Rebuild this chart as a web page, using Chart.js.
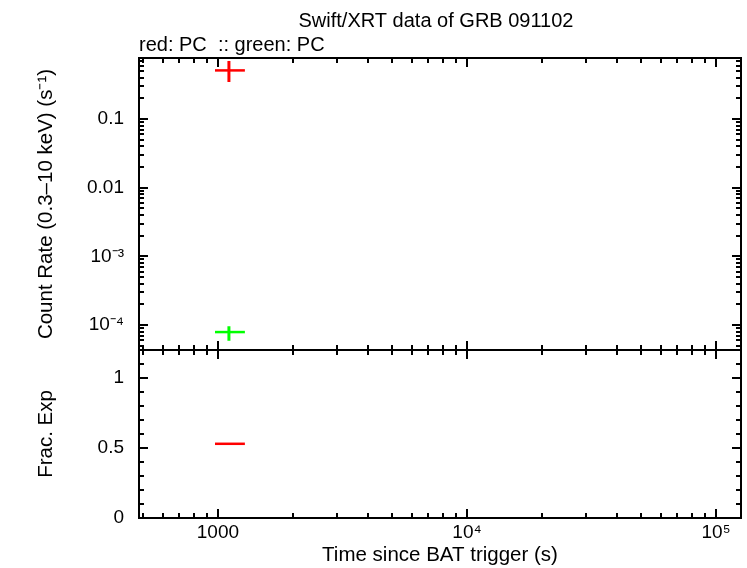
<!DOCTYPE html>
<html>
<head>
<meta charset="utf-8">
<script src="https://cdn.jsdelivr.net/npm/chart.js@4/dist/chart.umd.min.js"></script>
<style>
html,body{margin:0;padding:0;background:#fff;}
#wrap{position:relative;width:747px;height:568px;}
canvas{position:absolute;left:0;top:0;}
</style>
</head>
<body>
<div id="wrap">
<canvas id="top" width="747" height="568"></canvas>
<canvas id="bot" width="747" height="568"></canvas>
</div>
<script>
// ---- data ----
const titleText = "Swift/XRT data of GRB 091102";
const subtitleText = "red: PC  :: green: PC";

const redTime = [1107];
const redTimeLo = [973];
const redTimeHi = [1283];
const redRate = [0.51];
const redRateLo = [0.346];
const redRateHi = [0.70];

const greenTime = [1107];
const greenTimeLo = [973];
const greenTimeHi = [1283];
const greenRate = [7.9e-5];
const greenRateLo = [5.9e-5];
const greenRateHi = [9.6e-5];

const fracTime = [1107];
const fracTimeLo = [973];
const fracTimeHi = [1283];
const fracExp = [0.53];

const xMajor = [1000, 10000, 100000];
const xMajorLabels = ["1000", "10\u2074", "10\u2075"];
const xMinor = [500,600,700,800,900,2000,3000,4000,5000,6000,7000,8000,9000,
                20000,30000,40000,50000,60000,70000,80000,90000];
const yMajor = [0.1, 0.01, 0.001, 0.0001];
const yMajorLabels = ["0.1", "0.01", "10\u207B\u00B3", "10\u207B\u2074"];
const yMinor = [5e-5,6e-5,7e-5,8e-5,9e-5,2e-4,3e-4,4e-4,5e-4,6e-4,7e-4,8e-4,9e-4,
                0.002,0.003,0.004,0.005,0.006,0.007,0.008,0.009,
                0.02,0.03,0.04,0.05,0.06,0.07,0.08,0.09,0.2,0.3,0.4,0.5,0.6,0.7];
const fMajor = [0, 0.5, 1];
const fMajorLabels = ["0", "0.5", "1"];
const fMinor = [0.1,0.2,0.3,0.4,0.6,0.7,0.8,0.9,1.1];

const X_MIN = 482, X_MAX = 126000;
const Y_MIN = 4.33e-5, Y_MAX = 0.773;
const F_MIN = 0, F_MAX = 1.2;

const FONT = "'Liberation Sans', Arial, sans-serif";
const TICKFONT = {family: FONT, size: 19};
const AXISFONT = {family: FONT, size: 20.5};

// ---- helpers ----
function errorSets(t, tlo, thi, v, vlo, vhi, color) {
  const sets = [];
  for (let i = 0; i < t.length; i++) {
    sets.push({data: [{x: tlo[i], y: v[i]}, {x: thi[i], y: v[i]}], borderColor: color, borderWidth: 2.5, pointRadius: 0, showLine: true, fill: false});
    if (vlo) sets.push({data: [{x: t[i], y: vlo[i]}, {x: t[i], y: vhi[i]}], borderColor: color, borderWidth: 3, pointRadius: 0, showLine: true, fill: false});
  }
  return sets;
}
function makeTicks(major, minor) {
  return major.map(v => ({value: v, major: true})).concat(minor.map(v => ({value: v})));
}
function labelFor(major, labels) {
  return function(value) {
    for (let i = 0; i < major.length; i++) {
      if (Math.abs(value - major[i]) <= Math.abs(major[i]) * 1e-6 + 1e-12) return labels[i];
    }
    return '';
  };
}
// draw frame and inward ticks on all four sides
const frameTicks = {
  id: 'frameTicks',
  afterDraw(chart, args, opts) {
    const ctx = chart.ctx, a = chart.chartArea;
    ctx.save();
    ctx.strokeStyle = '#000';
    ctx.lineWidth = 2;
    ctx.strokeRect(a.left, a.top, a.right - a.left, a.bottom - a.top);
    const xs = chart.scales.x, ys = chart.scales.y;
    const MAJ = 9, MIN = 5;
    ctx.lineWidth = 2;
    ctx.beginPath();
    opts.xTicks.forEach(t => {
      const p = Math.round(xs.getPixelForValue(t.value));
      const L = t.major ? MAJ : MIN;
      ctx.moveTo(p, a.bottom); ctx.lineTo(p, a.bottom - L);
      ctx.moveTo(p, a.top); ctx.lineTo(p, a.top + L);
    });
    opts.yTicks.forEach(t => {
      const p = Math.round(ys.getPixelForValue(t.value));
      const L = t.major ? MAJ : MIN;
      ctx.moveTo(a.left, p); ctx.lineTo(a.left + L, p);
      ctx.moveTo(a.right, p); ctx.lineTo(a.right - L, p);
    });
    ctx.stroke();
    ctx.restore();
  }
};
const headText = {
  id: 'headText',
  afterDraw(chart) {
    const ctx = chart.ctx, a = chart.chartArea;
    ctx.save();
    ctx.fillStyle = '#000';
    ctx.font = "20px " + FONT;
    ctx.textAlign = 'center';
    ctx.textBaseline = 'alphabetic';
    ctx.fillText(titleText, (a.left + a.right) / 2 - 4, 27);
    ctx.textAlign = 'left';
    ctx.fillText(subtitleText, a.left, 51);
    ctx.restore();
  }
};

const xTicksAll = makeTicks(xMajor, xMinor);

// ---- top panel ----
new Chart(document.getElementById('top'), {
  type: 'scatter',
  data: {datasets: [
    ...errorSets(redTime, redTimeLo, redTimeHi, redRate, redRateLo, redRateHi, '#ff0000'),
    ...errorSets(greenTime, greenTimeLo, greenTimeHi, greenRate, greenRateLo, greenRateHi, '#00ff00')
  ]},
  options: {
    responsive: false, animation: false, events: [],
    layout: {padding: {left: 34, top: 58, right: 6, bottom: 218}},
    plugins: {legend: {display: false}, tooltip: {enabled: false}, frameTicks: {xTicks: xTicksAll, yTicks: makeTicks(yMajor, yMinor)}},
    scales: {
      x: {type: 'logarithmic', min: X_MIN, max: X_MAX, display: false},
      y: {type: 'logarithmic', min: Y_MIN, max: Y_MAX,
          afterFit(s) { s.width = 105; },
          afterBuildTicks(s) { s.ticks = yMajor.map(v => ({value: v})); },
          grid: {display: false, drawTicks: false}, border: {display: false},
          ticks: {autoSkip: false, padding: 15, color: '#000', font: TICKFONT, callback: labelFor(yMajor, yMajorLabels)},
          title: {display: true, text: 'Count Rate (0.3\u201310 keV) (s\u207B\u00B9)', color: '#000', font: AXISFONT, padding: {top: 0, bottom: 6}}
      }
    }
  },
  plugins: [frameTicks, headText]
});

// ---- bottom panel ----
new Chart(document.getElementById('bot'), {
  type: 'scatter',
  data: {datasets: errorSets(fracTime, fracTimeLo, fracTimeHi, fracExp, null, null, '#ff0000')},
  options: {
    responsive: false, animation: false, events: [],
    layout: {padding: {left: 34, top: 350, right: 6, bottom: 0}},
    plugins: {legend: {display: false}, tooltip: {enabled: false}, frameTicks: {xTicks: xTicksAll, yTicks: makeTicks(fMajor, fMinor)}},
    scales: {
      x: {type: 'logarithmic', min: X_MIN, max: X_MAX,
          afterFit(s) { s.height = 50; },
          afterBuildTicks(s) { s.ticks = xMajor.map(v => ({value: v})); },
          grid: {display: false, drawTicks: false}, border: {display: false},
          ticks: {autoSkip: false, maxRotation: 0, padding: 3, color: '#000', font: TICKFONT, callback: labelFor(xMajor, xMajorLabels)},
          title: {display: true, text: 'Time since BAT trigger (s)', color: '#000', font: AXISFONT, padding: {top: 0, bottom: 0}}
      },
      y: {type: 'linear', min: F_MIN, max: F_MAX,
          afterFit(s) { s.width = 105; },
          afterBuildTicks(s) { s.ticks = fMajor.map(v => ({value: v})); },
          grid: {display: false, drawTicks: false}, border: {display: false},
          ticks: {autoSkip: false, padding: 15, color: '#000', font: TICKFONT, callback: labelFor(fMajor, fMajorLabels)},
          title: {display: true, text: 'Frac. Exp', color: '#000', font: AXISFONT, padding: {top: 0, bottom: 6}}
      }
    }
  },
  plugins: [frameTicks]
});
</script>
</body>
</html>
